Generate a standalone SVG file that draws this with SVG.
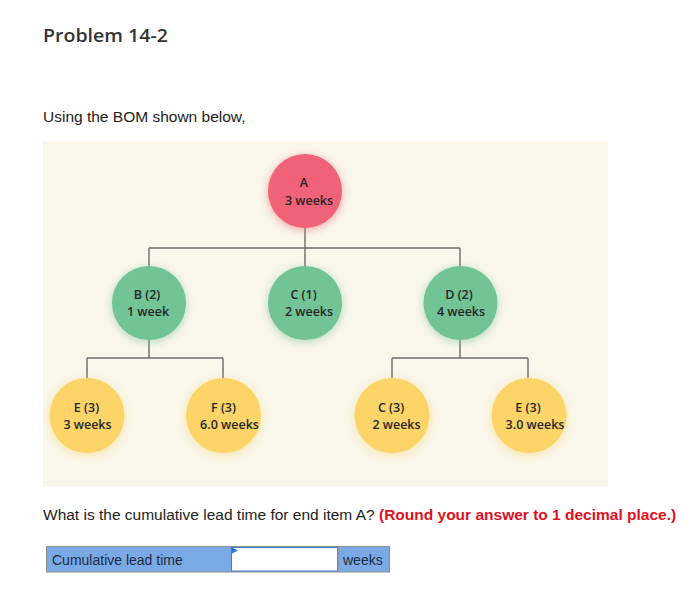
<svg xmlns="http://www.w3.org/2000/svg" width="700" height="602" viewBox="0 0 700 602">
<style>
.title{font-family:"Open Sans","Liberation Sans",sans-serif;font-weight:600;font-size:18px;fill:#333}
.body{font-family:"Liberation Sans",Arial,sans-serif;font-size:15.5px;fill:#222}
.red{fill:#e0101e;font-weight:bold}
.nt{font-family:"Open Sans","Noto Sans",sans-serif;font-size:12.5px;font-weight:600;fill:#262626;text-anchor:middle}
.conn{stroke:#6b6b6b;stroke-width:1.4;fill:none}
.cell{font-family:"Liberation Sans",Arial,sans-serif;font-size:14px;fill:#1c2a40}
.red-c{fill:#f06277}
.grn-c{fill:#72c395}
.yel-c{fill:#fdd468}
</style>
<defs>
<filter id="glow" x="-40%" y="-40%" width="180%" height="180%">
<feGaussianBlur in="SourceGraphic" stdDeviation="4.5" result="b"/>
<feOffset in="b" dx="0" dy="2" result="o"/>
<feComponentTransfer in="o" result="t"><feFuncA type="linear" slope="0.55"/></feComponentTransfer>
<feMerge><feMergeNode in="t"/><feMergeNode in="SourceGraphic"/></feMerge>
</filter>
</defs>
<rect width="700" height="602" fill="#ffffff"/>
<text class="title" x="43" y="42" textLength="125" lengthAdjust="spacingAndGlyphs">Problem 14-2</text>
<text class="body" x="43" y="122">Using the BOM shown below,</text>
<rect x="43" y="141" width="565" height="346" fill="#f9f6ea"/>
<g id="connectors">
<path class="conn" d="M305 226V248M149 248H460M149 248V267M305 248V268M460 248V268"/>
<path class="conn" d="M149 339V358M87 358H223M87 358V378M223 358V378"/>
<path class="conn" d="M460 339V358M392 358H528M392 358V378M528 358V378"/>
</g>
<g id="node-A"><circle class="red-c" cx="305" cy="191" r="37" filter="url(#glow)"/><text class="nt" x="304" y="187">A</text><text class="nt" x="309" y="205">3 weeks</text></g>
<g id="node-B"><circle class="grn-c" cx="149" cy="303" r="37" filter="url(#glow)"/><text class="nt" x="147" y="299">B (2)</text><text class="nt" x="148" y="316">1 week</text></g>
<g id="node-C1"><circle class="grn-c" cx="305" cy="303" r="37" filter="url(#glow)"/><text class="nt" x="303.5" y="299">C (1)</text><text class="nt" x="309" y="316">2 weeks</text></g>
<g id="node-D"><circle class="grn-c" cx="460.5" cy="303" r="37" filter="url(#glow)"/><text class="nt" x="459" y="299">D (2)</text><text class="nt" x="461" y="316">4 weeks</text></g>
<g id="node-E1"><circle class="yel-c" cx="87" cy="415.5" r="37.5" filter="url(#glow)"/><text class="nt" x="86.5" y="411.5">E (3)</text><text class="nt" x="87.5" y="428.5">3 weeks</text></g>
<g id="node-F"><circle class="yel-c" cx="223.5" cy="415.5" r="37.5" filter="url(#glow)"/><text class="nt" x="223.5" y="411.5">F (3)</text><text class="nt" x="229.5" y="428.5">6.0 weeks</text></g>
<g id="node-C3"><circle class="yel-c" cx="392" cy="415.5" r="37.5" filter="url(#glow)"/><text class="nt" x="391" y="411.5">C (3)</text><text class="nt" x="396.5" y="428.5">2 weeks</text></g>
<g id="node-E2"><circle class="yel-c" cx="529" cy="415.5" r="37.5" filter="url(#glow)"/><text class="nt" x="528" y="411.5">E (3)</text><text class="nt" x="535" y="428.5">3.0 weeks</text></g>
<text class="body" x="43" y="520">What is the cumulative lead time for end item A? <tspan class="red">(Round your answer to 1 decimal place.)</tspan></text>
<g id="answer-row">
<rect x="46.5" y="546.5" width="343" height="25.5" fill="#7aaae6" stroke="#8c8c8c" stroke-width="1"/>
<rect x="231.5" y="547.5" width="106" height="23.5" fill="#ffffff" stroke="#4d7fc0" stroke-width="1"/>
<path d="M232 547.5L238 550.5L232 553.5Z" fill="#2f6fd0"/>
<line x1="338" y1="547" x2="338" y2="572" stroke="#8c8c8c"/>
<text class="cell" x="52" y="564.5">Cumulative lead time</text>
<text class="cell" x="343" y="564.5">weeks</text>
</g>
</svg>
